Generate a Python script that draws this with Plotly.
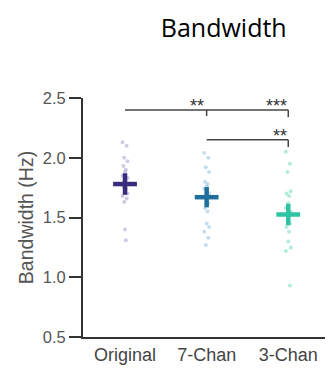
import plotly.graph_objects as go

categories = ["Original", "7-Chan", "3-Chan"]
means = [1.78, 1.67, 1.525]
sems = [0.09, 0.085, 0.09]
points_original = [2.13, 2.10, 2.00, 1.97, 1.93, 1.90, 1.88, 1.85, 1.83, 1.80, 1.78, 1.76,
                   1.74, 1.72, 1.70, 1.68, 1.66, 1.63, 1.40, 1.31]
points_7chan = [2.04, 2.00, 1.92, 1.88, 1.80, 1.78, 1.76, 1.74, 1.70, 1.66, 1.62, 1.58,
                1.55, 1.45, 1.42, 1.38, 1.33, 1.27]
points_3chan = [2.05, 1.95, 1.88, 1.72, 1.70, 1.68, 1.62, 1.58, 1.55, 1.48, 1.45, 1.42,
                1.38, 1.30, 1.25, 1.22, 0.93]
all_points = [points_original, points_7chan, points_3chan]
jitter = [-0.03, 0.02, -0.01, 0.03, -0.02, 0.01, 0.0, -0.03, 0.03, -0.01, 0.02, -0.02,
          0.01, 0.0, 0.03, -0.03, 0.02, -0.01, 0.0, 0.01]
mean_colors = ["#3a2c7c", "#1f6f9c", "#2fc3a3"]
point_colors = ["rgba(120,110,180,0.35)", "rgba(90,160,205,0.35)", "rgba(70,205,175,0.4)"]

# significance brackets: (x0, x1, y)
sig_bars = [(0, 2, 2.40), (1, 2, 2.15)]
sig_stars = [(0.88, 2.435, "**"), (1.86, 2.435, "***"), (1.9, 2.185, "**")]

fig = go.Figure()
for i, pts in enumerate(all_points):
    fig.add_trace(go.Scatter(
        x=[i + jitter[k % len(jitter)] for k in range(len(pts))], y=pts, mode="markers",
        marker=dict(size=4, color=point_colors[i]), showlegend=False, hoverinfo="skip"))
for i in range(3):
    fig.add_trace(go.Scatter(
        x=[i], y=[means[i]], mode="markers",
        marker=dict(symbol="line-ew", size=17, line=dict(width=4.5, color=mean_colors[i])),
        error_y=dict(type="data", array=[sems[i]], thickness=4.5, width=0, color=mean_colors[i]),
        showlegend=False, hoverinfo="skip"))

line_col = "#444444"
shapes = []
for x0, x1, y in sig_bars:
    shapes.append(dict(type="line", xref="x", yref="y", x0=x0, x1=x1, y0=y, y1=y,
                       line=dict(color=line_col, width=1.5)))
    shapes.append(dict(type="line", xref="x", yref="y", x0=x1, x1=x1, y0=y, y1=y - 0.06,
                       line=dict(color=line_col, width=1.5)))
shapes.append(dict(type="line", xref="x", yref="y", x0=1, x1=1, y0=2.40, y1=2.35,
                   line=dict(color=line_col, width=1.5)))

annotations = [dict(x=x, y=y, text=t, showarrow=False, xref="x", yref="y",
                    font=dict(size=18, color="#333333", family="Liberation Sans"))
               for x, y, t in sig_stars]

fig.update_layout(
    width=334, height=377,
    margin=dict(l=83, r=9, t=98, b=40),
    paper_bgcolor="white", plot_bgcolor="white",
    title=dict(text="Bandwidth", x=0.67, xanchor="center", y=0.925, yanchor="middle",
               font=dict(size=25, color="black", family="Open Sans")),
    shapes=shapes, annotations=annotations,
    xaxis=dict(range=[-0.515, 2.45], tickvals=[0, 1, 2], ticktext=categories,
               showgrid=False, zeroline=False, showline=True, linecolor="#333333", linewidth=2,
               ticks="", tickfont=dict(size=18, color="#444444", family="Liberation Sans")),
    yaxis=dict(range=[0.5, 2.5], tickvals=[0.5, 1.0, 1.5, 2.0, 2.5],
               ticktext=["0.5", "1.0", "1.5", "2.0", "2.5"],
               showgrid=False, zeroline=False, showline=True, linecolor="#333333", linewidth=2,
               ticks="outside", ticklen=12, tickwidth=2, tickcolor="#333333",
               tickfont=dict(size=16.5, color="#555555", family="Liberation Sans"),
               title=dict(text="Bandwidth (Hz)", standoff=4,
                          font=dict(size=19.5, color="#555555", family="Liberation Sans"))),
)
fig.write_html("out.html")
